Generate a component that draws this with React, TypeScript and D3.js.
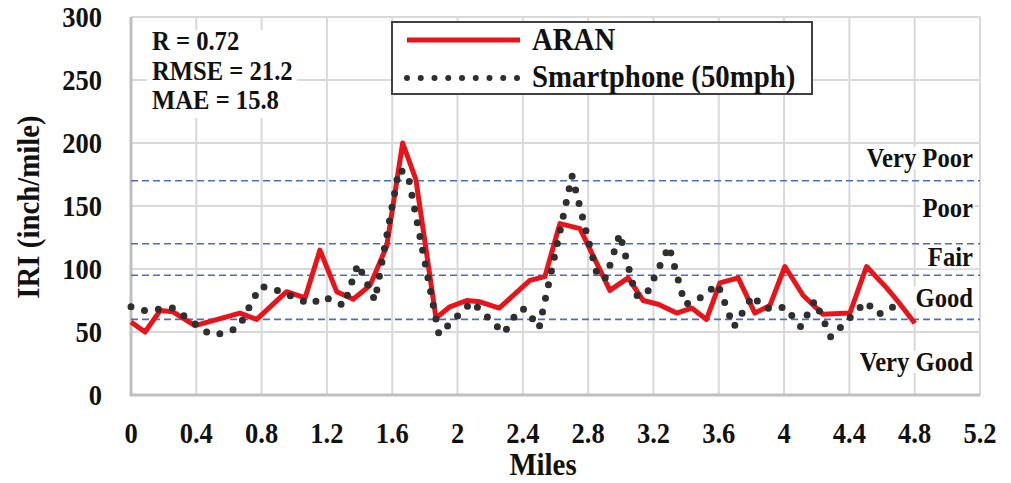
import { useEffect, useRef } from 'react';
import * as d3 from 'd3';

// ARAN profile (miles, IRI)
const aranMiles = [
  0, 0.086, 0.178, 0.257, 0.392, 0.667, 0.77, 0.953, 1.066, 1.157, 1.26, 1.361, 1.464, 1.566, 1.664,
  1.745, 1.868, 1.953, 2.056, 2.137, 2.255, 2.443, 2.535, 2.627, 2.75, 2.933, 3.045, 3.137, 3.229,
  3.342, 3.434, 3.525, 3.607, 3.719, 3.821, 3.913, 4.005, 4.117, 4.239, 4.403, 4.505, 4.628, 4.699, 4.801,
];
const aranIri = [
  58, 50, 67, 66, 55, 65, 60, 82, 77, 115, 82, 76, 87, 118, 200, 171, 61, 70, 75, 74, 69, 91, 94, 136,
  132, 83, 93, 75, 72, 65, 69, 60, 89, 93, 65, 71, 102, 79, 64, 65, 102, 85, 74, 57,
];

// smartphone at 50 mph (miles, IRI)
const phoneMiles = [
  0, 0.08, 0.257, 0.484, 0.576, 0.661, 0.79, 0.857, 1.102, 1.182, 1.304, 1.39, 1.494, 1.641, 1.696,
  1.886, 2.088, 2.284, 2.376, 2.419, 2.499, 2.701, 2.86, 2.909, 2.994, 3.092, 3.154, 3.295, 3.393,
  3.466, 3.594, 3.692, 3.809, 3.864, 3.931, 4.005, 4.103, 4.188, 4.286, 4.501, 4.574, 4.635, 4.709,
];
const phoneIri = [
  70, 67, 69, 48, 49, 54, 86, 85, 72, 78, 71, 104, 75, 179, 175, 48, 74, 49, 68, 68, 53, 174, 93, 93,
  128, 79, 79, 118, 72, 75, 88, 54, 79, 70, 68, 70, 54, 75, 46, 74, 64, 67, 74,
];

const xTicks = [0, 0.4, 0.8, 1.2, 1.6, 2, 2.4, 2.8, 3.2, 3.6, 4, 4.4, 4.8, 5.2];
const yTicks = [0, 50, 100, 150, 200, 250, 300];

// condition thresholds and class labels
const thresholds = [60, 95, 120, 170];
const classLabels = ['Very Poor', 'Poor', 'Fair', 'Good', 'Very Good'];
const classLabelIri = [182, 142, 103, 71, 20];

const statLines = ['R = 0.72', 'RMSE = 21.2', 'MAE = 15.8'];
const seriesNames = ['ARAN', 'Smartphone (50mph)'];

const FONT = "'Liberation Serif', 'Times New Roman', serif";
const SQUEEZE = 0.93;

type G = d3.Selection<SVGGElement, unknown, null, undefined>;

// bold, slightly condensed text like the original figure
const label = (
  g: G,
  x: number,
  y: number,
  str: string,
  size: number,
  anchor = 'start',
  rotate = 0,
) =>
  g
    .append('text')
    .attr('transform', `translate(${x},${y}) rotate(${rotate}) scale(${SQUEEZE},1)`)
    .attr('text-anchor', anchor)
    .attr('font-family', FONT)
    .attr('font-weight', 'bold')
    .attr('font-size', size)
    .attr('fill', '#111')
    .text(str);

const App = () => {
  const svgRef = useRef<SVGSVGElement>(null!);

  useEffect(() => {
    const width = 1011;
    const height = 483;
    const svg = d3.select(svgRef.current);
    svg.attr('width', width).attr('height', height);
    const root = svg.append('g') as G;

    const x = d3.scaleLinear().domain([0, 5.2]).range([131, 980]);
    const y = d3.scaleLinear().domain([0, 300]).range([395, 17]);

    // gridlines
    const grid = root.append('g');
    grid
      .selectAll('line.v')
      .data(xTicks)
      .enter()
      .append('line')
      .attr('x1', d => x(d))
      .attr('x2', d => x(d))
      .attr('y1', y(300))
      .attr('y2', y(0))
      .attr('stroke', '#d9d9d9')
      .attr('stroke-width', 2);
    grid
      .selectAll('line.h')
      .data(yTicks)
      .enter()
      .append('line')
      .attr('x1', x(0))
      .attr('x2', x(5.2))
      .attr('y1', d => y(d))
      .attr('y2', d => y(d))
      .attr('stroke', '#d9d9d9')
      .attr('stroke-width', 2);
    root
      .append('path')
      .attr('d', `M${x(0)},${y(300)}V${y(0)}H${x(5.2)}`)
      .attr('fill', 'none')
      .attr('stroke', '#bfbfbf')
      .attr('stroke-width', 3);

    // threshold lines
    root
      .append('g')
      .selectAll('line')
      .data(thresholds)
      .enter()
      .append('line')
      .attr('x1', x(0))
      .attr('x2', x(5.2))
      .attr('y1', d => y(d))
      .attr('y2', d => y(d))
      .attr('stroke', '#4a6fc0')
      .attr('stroke-width', 1.6)
      .attr('stroke-dasharray', '7 4');

    // class labels with white boxes behind
    const cl = root.append('g') as G;
    classLabels.forEach((t, i) => {
      const by = y(classLabelIri[i]) + 1;
      const txt = label(cl, 973, by, t, 26.5, 'end');
      const bb = (txt.node() as SVGTextElement).getBBox();
      const w = bb.width * SQUEEZE;
      cl.insert('rect', 'text')
        .attr('x', 973 - w - 2)
        .attr('y', by + bb.y + 4)
        .attr('width', w + 4)
        .attr('height', bb.height - 8)
        .attr('fill', '#fff');
    });

    // series
    const aranData = aranMiles.map((m, i) => [m, aranIri[i]] as [number, number]);
    const phoneData = phoneMiles.map((m, i) => [m, phoneIri[i]] as [number, number]);
    const line = d3
      .line<[number, number]>()
      .x(d => x(d[0]))
      .y(d => y(d[1]));

    root
      .append('path')
      .datum(aranData)
      .attr('d', line)
      .attr('fill', 'none')
      .attr('stroke', '#e8141a')
      .attr('stroke-width', 5)
      .attr('stroke-linejoin', 'round');

    root
      .append('path')
      .datum(phoneData)
      .attr('d', line)
      .attr('fill', 'none')
      .attr('stroke', '#2f2f2f')
      .attr('stroke-width', 7)
      .attr('stroke-linecap', 'round')
      .attr('stroke-dasharray', '0 14');

    // tick labels
    const yl = root.append('g') as G;
    yTicks.forEach(t => label(yl, 102, y(t) + 10, String(t), 28.5, 'end'));
    const xl = root.append('g') as G;
    xTicks.forEach(t => label(xl, x(t), 443, String(t), 28.5, 'middle'));

    // axis titles
    label(root, 39, 207, 'IRI (inch/mile)', 31, 'middle', -90);
    label(root, 543, 475, 'Miles', 31, 'middle');

    // stats box
    root
      .append('rect')
      .attr('x', 147)
      .attr('y', 30)
      .attr('width', 150)
      .attr('height', 88)
      .attr('fill', '#fff');
    statLines.forEach((s, i) => label(root, 152, 50 + i * 29.5, s, 26.5));

    // legend
    const lg = root.append('g') as G;
    lg.append('rect')
      .attr('x', 392)
      .attr('y', 22)
      .attr('width', 420)
      .attr('height', 72)
      .attr('fill', '#fff')
      .attr('stroke', '#404040')
      .attr('stroke-width', 2);
    lg.append('line')
      .attr('x1', 407)
      .attr('x2', 520)
      .attr('y1', 40)
      .attr('y2', 40)
      .attr('stroke', '#e8141a')
      .attr('stroke-width', 5);
    lg.append('line')
      .attr('x1', 407)
      .attr('x2', 518)
      .attr('y1', 78)
      .attr('y2', 78)
      .attr('stroke', '#2f2f2f')
      .attr('stroke-width', 6)
      .attr('stroke-linecap', 'round')
      .attr('stroke-dasharray', '0 13.75');
    seriesNames.forEach((s, i) => label(lg, 532, 50 + i * 37, s, 31));

    return () => {
      svgRef.current.innerHTML = '';
    };
  }, []);

  return <svg ref={svgRef} style={{ position: 'absolute', left: 0, top: 0 }}></svg>;
};

export default App;
